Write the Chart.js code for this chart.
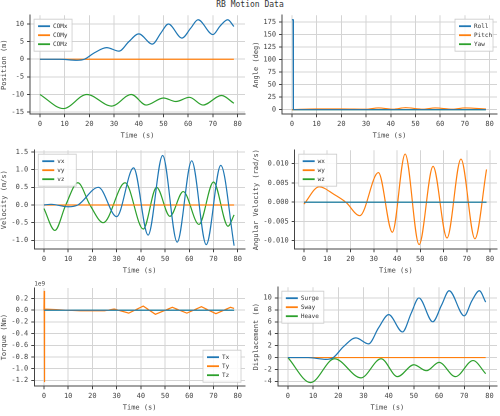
<!DOCTYPE html>
<html><head><meta charset="utf-8">
<script src="https://cdn.jsdelivr.net/npm/chart.js@4"></script>
<style>
body{margin:0;background:#fff;width:500px;height:416px;position:relative;overflow:hidden}
canvas{position:absolute}
#title{position:absolute;top:0;left:0;width:500px;text-align:center;font:8px "DejaVu Sans Mono";color:#333}
</style></head><body>
<div id="title">RB Motion Data</div>
<canvas id="c1" width="248" height="132"></canvas><canvas id="c2" width="248" height="132"></canvas><canvas id="c3" width="248" height="132"></canvas>
<canvas id="c4" width="248" height="132"></canvas><canvas id="c5" width="248" height="132"></canvas><canvas id="c6" width="248" height="132"></canvas>
<script>
// ---- data ----
const tZero = [0, 78.5];
const zero = [0, 0];
const tComX = [0,8,15,18,22,27,32,36,40,45.5,49,52,57.5,61,64,70,73,76,78.5];
const comX  = [0,0,-0.3,0,1.8,3.3,2.3,5,7.2,4.3,7.5,10,6,8.8,11.2,7,9.5,11.2,9.3];
const tComZ = [0,9.5,19,29,37,43,50,55,60.5,66,73.5,78.5];
const comZ  = [-10,-14,-10,-13.3,-10,-13,-11,-12,-10.8,-13,-10.3,-12.5];
const tRoll = [0,0.5,0.6,78.5];
const roll  = [180,180,0,0];
const tPitch = [0,10,20,30,35,41,46,53,58,65,70,78.5];
const pitch  = [0,1.5,1.5,1,3.5,1,4,1,3.5,1,3.5,1.5];
const tVx = [0,3,10,14,22.5,30,37,43,49,55,61,67,73,78.5];
const vx  = [0,0.02,-0.05,0,0.5,-0.33,1.05,-0.85,1.4,-1.05,1.25,-1.12,1.12,-1.15];
const tVz = [0,4.5,9,14,19,24.5,33.5,41,46.5,52,57.5,64,70,76,78.5];
const vz  = [-0.1,-0.72,0,0.63,0,-0.5,0.63,-0.68,0.5,-0.32,0.38,-0.55,0.65,-0.6,-0.28];
const tWy = [0,6.5,13,18,24,32,38,43.5,49.5,55.5,61.5,67.5,73.5,78.5];
const wy  = [-0.0005,0.004,0.002,0,-0.0035,0.0077,-0.0078,0.0125,-0.011,0.0093,-0.0093,0.0112,-0.0095,0.0085];
const tTy = [0,0.1,0.2,0.3,5,15,25,29,35,41,46,53,59,65,71,77,78.5];
const ty  = [0,0.33,-1.23,0.02,0.01,-0.01,-0.01,0.02,-0.05,0.07,-0.07,0.05,-0.05,0.06,-0.06,0.05,0.03];
const tHeave = [0,9,18.5,29,37,43.5,50,55,60,66.5,73.5,78.5];
const heave  = [0,-4.2,-0.2,-3.4,-0.2,-3.2,-1.2,-2.2,-0.8,-3.2,-0.5,-2.7];
const xTicks = [0,10,20,30,40,50,60,70,80];

// ---- helpers ----
const C = ['#1f77b4','#ff7f0e','#2ca02c'];
const F = {family:'DejaVu Sans Mono', size:7};
const pts = (t,v)=>t.map((x,i)=>({x,y:v[i]}));
function ds(label,t,v,col,mono=true){
  return {label,data:pts(t,v),borderColor:col,backgroundColor:col,borderWidth:1.2,pointRadius:0,
    cubicInterpolationMode:mono?'monotone':'default',tension:0};
}
const legendPlugin = {id:'lg',afterDraw(ch,a,o){
  const c=ch.ctx, A=ch.chartArea, items=ch.data.datasets;
  const w=o.w||38, h=items.length*9+5;
  let x = o.pos==='tl'? A.left+4 : A.right-w-4;
  let y = o.pos==='br'? A.bottom-h-4 : A.top+4;
  c.save(); c.fillStyle='rgba(255,255,255,0.85)'; c.strokeStyle='#ccc'; c.lineWidth=0.8;
  c.beginPath(); c.rect(x,y,w,h); c.fill(); c.stroke();
  c.font='6px "DejaVu Sans Mono"'; c.textBaseline='middle';
  items.forEach((d,i)=>{const yy=y+7+i*9; c.strokeStyle=d.borderColor; c.lineWidth=1.8;
    c.beginPath(); c.moveTo(x+4,yy); c.lineTo(x+16,yy); c.stroke();
    c.fillStyle='#333'; c.fillText(d.label,x+19,yy);});
  if(o.exp){c.fillStyle='#444'; c.textBaseline='bottom'; c.fillText(o.exp,A.left,A.top-1);}
  c.restore();
}};
function mk(id,left,top,datasets,ytitle,ymin,ymax,ystep,pos,fmt,exp,lw){
  const cv=document.getElementById(id); cv.style.left=left+'px'; cv.style.top=top+'px';
  cv.style.width='248px'; cv.style.height='132px';
  new Chart(cv,{type:'line',data:{datasets},plugins:[legendPlugin],
    options:{responsive:false,animation:false,devicePixelRatio:2,
      layout:{padding:{top:exp?8:2,right:3,left:0,bottom:0}},
      plugins:{legend:{display:false},tooltip:{enabled:false},lg:{pos,exp,w:lw}},
      scales:{
        x:{type:'linear',min:-4,max:83,afterBuildTicks:s=>{s.ticks=xTicks.map(v=>({value:v}))},
          ticks:{font:F,color:'#444',maxRotation:0},grid:{color:'#d4d4d4',tickColor:'#444',tickLength:3},
          border:{color:'#444'},title:{display:true,text:'Time (s)',font:F,color:'#444',padding:0}},
        y:{type:'linear',min:ymin,max:ymax,ticks:{font:F,color:'#444',stepSize:ystep,includeBounds:false,
            callback:fmt||(v=>v)},
          grid:{color:'#d4d4d4',tickColor:'#444',tickLength:3},border:{color:'#444'},
          title:{display:true,text:ytitle,font:F,color:'#444',padding:0}}
      }}});
}
const f3=v=>v.toFixed(3), f1=v=>v.toFixed(1);
mk('c1',0,8,[ds('COMx',tComX,comX,C[0]),ds('COMy',tZero,zero,C[1]),ds('COMz',tComZ,comZ,C[2])],
  'Position (m)',-15.6,12.5,5,'tl');
mk('c2',252,8,[ds('Roll',tRoll,roll,C[0],false),ds('Pitch',tPitch,pitch,C[1]),ds('Yaw',tZero,zero,C[2])],
  'Angle (deg)',-9,189,25,'tr');
mk('c3',0,143,[ds('vx',tVx,vx,C[0]),ds('vy',tZero,zero,C[1]),ds('vz',tVz,vz,C[2])],
  'Velocity (m/s)',-1.25,1.55,0.5,'tl',f1);
mk('c4',252,143,[ds('wx',tZero,zero,C[0]),ds('wy',tWy,wy,C[1]),ds('wz',tZero,zero,C[2])],
  'Angular Velocity (rad/s)',-0.0122,0.0135,0.005,'tl',f3);
mk('c5',0,280,[ds('Tx',tZero,zero,C[0]),ds('Ty',tTy,ty,C[1],false),ds('Tz',tZero,zero,C[2])],
  'Torque (Nm)',-1.3,0.38,0.2,'br',f1,'1e9');
mk('c6',252,280,[ds('Surge',tComX,comX,C[0]),ds('Sway',tZero,zero,C[1]),ds('Heave',tHeave,heave,C[2])],
  'Displacement (m)',-4.8,11.8,2,'tl',null,null,42);
</script></body></html>
